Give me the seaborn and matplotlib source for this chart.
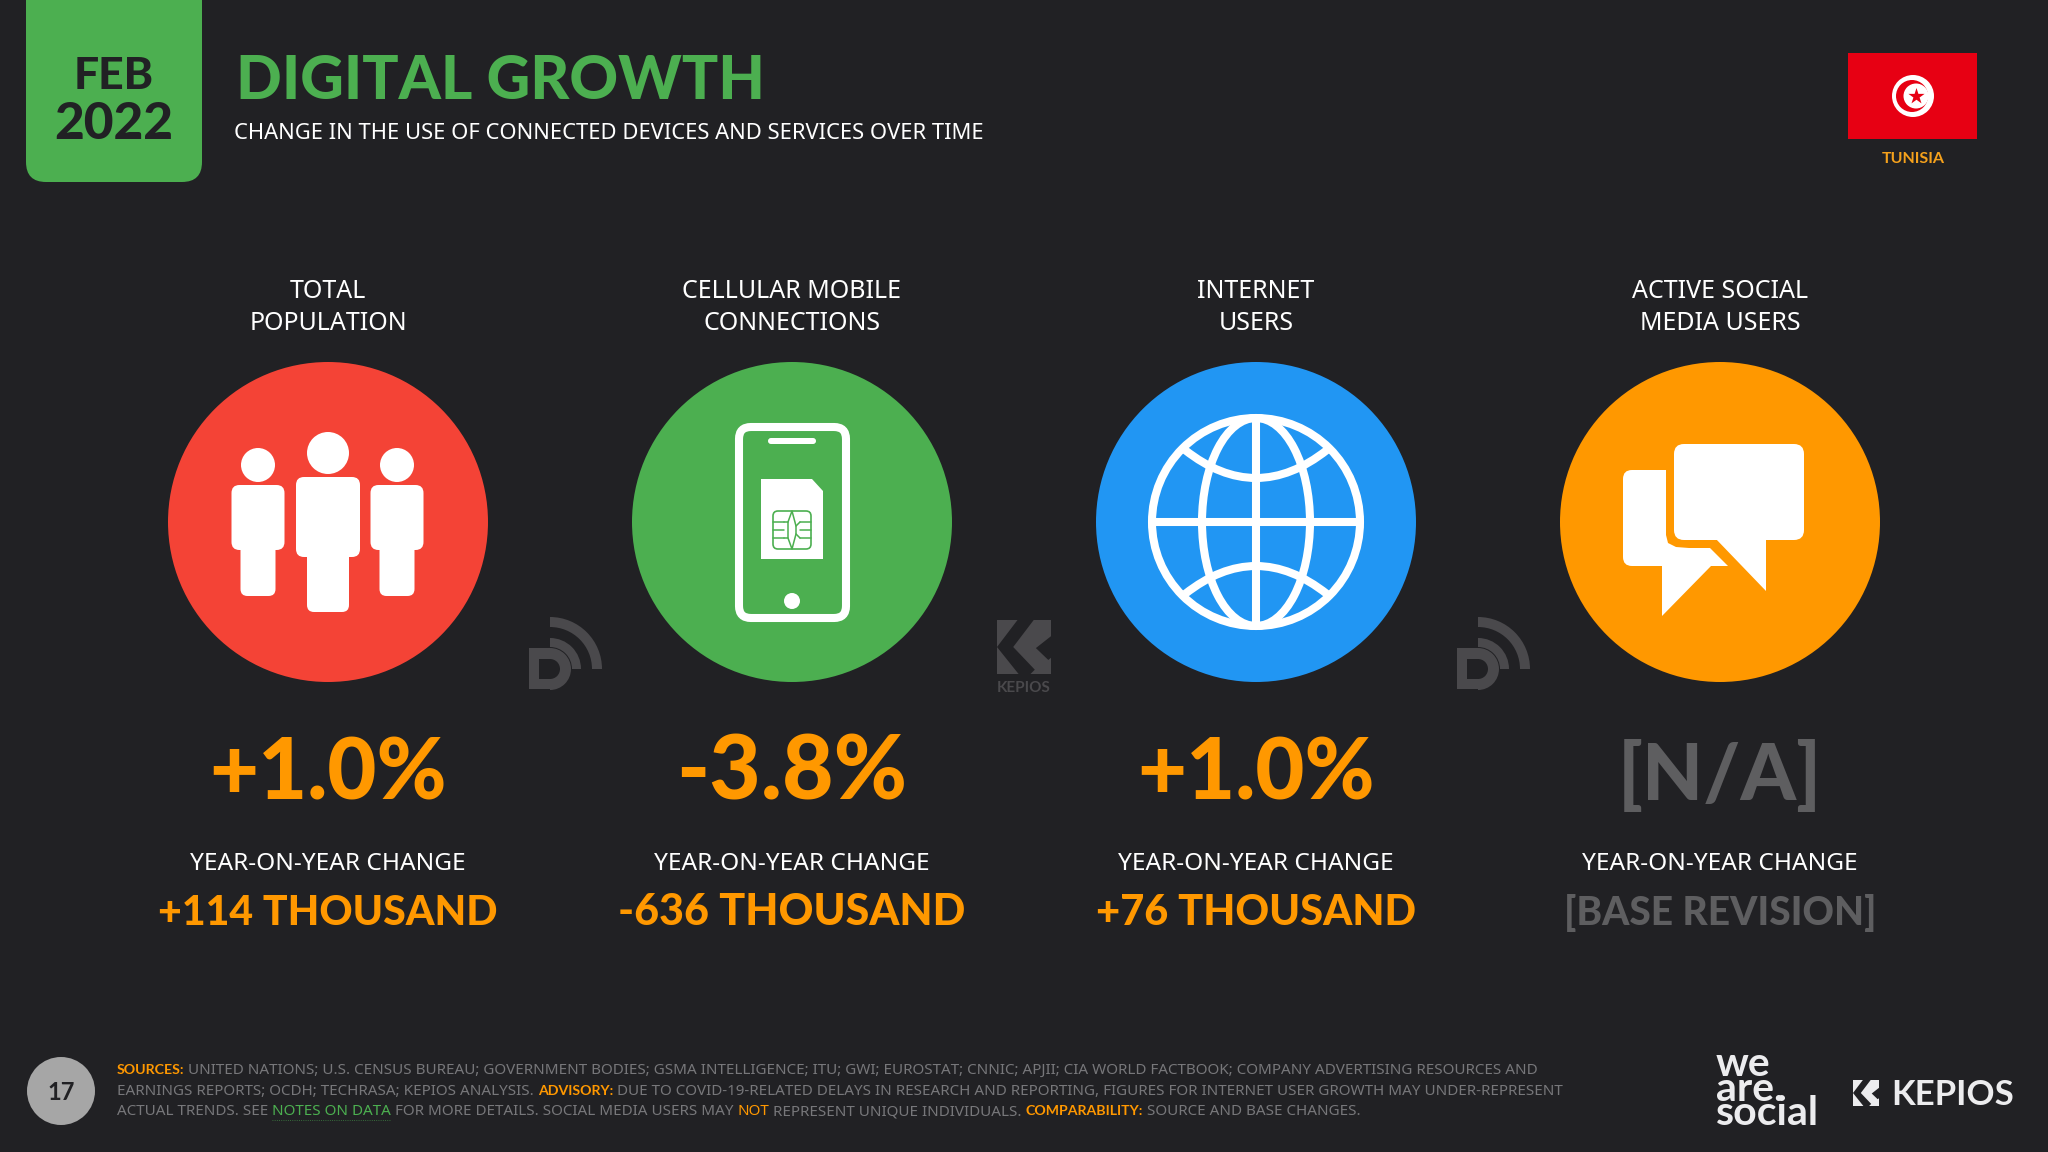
import matplotlib
matplotlib.use("Agg")
import matplotlib.pyplot as plt
import numpy as np
import pandas as pd
import seaborn as sns
from matplotlib.patches import Circle, Ellipse, FancyBboxPatch, PathPatch, Polygon, Rectangle, Wedge
from matplotlib.path import Path

# values
metrics = ["TOTAL\nPOPULATION", "CELLULAR MOBILE\nCONNECTIONS", "INTERNET\nUSERS", "ACTIVE SOCIAL\nMEDIA USERS"]
pct_change = ["+1.0%", "-3.8%", "+1.0%", "[N/A]"]
abs_change = ["+114 THOUSAND", "-636 THOUSAND", "+76 THOUSAND", "[BASE REVISION]"]
change_label = "YEAR-ON-YEAR CHANGE"

title = "DIGITAL GROWTH"
subtitle = "CHANGE IN THE USE OF CONNECTED DEVICES AND SERVICES OVER TIME"
month = "FEB"
year = "2022"
country = "TUNISIA"
page = "17"

footer_lines = [
    [("SOURCES:", "o"), ("UNITED NATIONS; U.S. CENSUS BUREAU; GOVERNMENT BODIES; GSMA INTELLIGENCE; ITU; GWI; EUROSTAT; CNNIC; APJII; CIA WORLD FACTBOOK; COMPANY ADVERTISING RESOURCES AND", "g")],
    [("EARNINGS REPORTS; OCDH; TECHRASA; KEPIOS ANALYSIS.", "g"), ("ADVISORY:", "o"), ("DUE TO COVID-19-RELATED DELAYS IN RESEARCH AND REPORTING, FIGURES FOR INTERNET USER GROWTH MAY UNDER-REPRESENT", "g")],
    [("ACTUAL TRENDS. SEE", "g"), ("NOTES ON DATA", "n"), ("FOR MORE DETAILS. SOCIAL MEDIA USERS MAY", "g"), ("NOT", "t"), ("REPRESENT UNIQUE INDIVIDUALS.", "g"), ("COMPARABILITY:", "o"), ("SOURCE AND BASE CHANGES.", "g")],
]

BG = "#212124"
GREEN = "#4CAF50"
ORANGE = "#FF9800"
GREY = "#5E5E60"
WHITE = "#FFFFFF"
LOGO = "#ECECEE"
WATERMARK = "#4A494C"
circle_colors = ["#F44336", GREEN, "#2196F3", ORANGE]
pct_colors = [ORANGE, ORANGE, ORANGE, GREY]

col_x = [328, 792, 1256, 1720]
pct_sizes = [61, 64, 61, 57]
abs_sizes = [29.5, 31, 30, 28]
CY = 522

sns.set_theme(style="white")
plt.rcParams["font.family"] = ["Lato", "DejaVu Sans"]

thin = dict(family=["Noto Sans", "DejaVu Sans"], stretch="condensed", fontweight="light")
heavy = dict(family=["Lato", "DejaVu Sans"], fontweight=900)

fig = plt.figure(figsize=(20.48, 11.52), dpi=100, facecolor=BG)
ax = fig.add_axes([0, 0, 1, 1])
ax.set_facecolor(BG)

circles = pd.DataFrame({"x": col_x, "y": [CY] * 4, "metric": metrics})
sns.scatterplot(data=circles, x="x", y="y", hue="metric", palette=circle_colors,
                s=(320 * 0.72) ** 2, linewidth=0, legend=False, ax=ax, zorder=2)
ax.set_xlim(0, 2048)
ax.set_ylim(1152, 0)
ax.axis("off")


def rounded(x0, y0, x1, y1, r, color, z=3, **kw):
    p = FancyBboxPatch((x0, y0), x1 - x0, y1 - y0, boxstyle=f"round,pad=0,rounding_size={r}",
                       facecolor=color, edgecolor="none", zorder=z, **kw)
    ax.add_patch(p)
    return p


def person(cx, head_y, head_r, body_w, body_top, body_bot, leg_w, leg_bot):
    ax.add_patch(Circle((cx, head_y), head_r, color=WHITE, lw=0, zorder=3))
    rounded(cx - body_w / 2, body_top, cx + body_w / 2, body_bot, 8, WHITE)
    rounded(cx - leg_w / 2, body_bot - 10, cx + leg_w / 2, leg_bot, 7, WHITE)


def curve(p0, c, p1, color=WHITE, lw=5.8):
    path = Path([p0, c, p1], [Path.MOVETO, Path.CURVE3, Path.CURVE3])
    ax.add_patch(PathPatch(path, fill=False, edgecolor=color, lw=lw, zorder=4, capstyle="butt"))


def d_logo(x, y):
    # x, y = centre of the arcs
    ax.add_patch(Wedge((x, y), 52, -90, 0, width=10, color=WATERMARK, lw=0))
    ax.add_patch(Wedge((x, y), 31, -90, 0, width=9, color=WATERMARK, lw=0))
    ax.add_patch(Wedge((x, y), 21, -90, 90, color=WATERMARK, lw=0))
    ax.add_patch(Rectangle((x - 21, y - 21), 21, 41, color=WATERMARK, lw=0))
    ax.add_patch(Rectangle((x - 11, y - 10), 11, 20, color=BG, lw=0))
    ax.add_patch(Wedge((x, y), 10, -90, 90, color=BG, lw=0))


def k_mark(x0, y0, size, color):
    ax.add_patch(Rectangle((x0, y0), size, size, color=color, lw=0))
    band = [(.38, 0), (.68, 0), (.30, .50), (.70, .92), (.62, 1), (.40, 1), (0, .50)]
    diamond = [(1, .30), (.72, .52), (.95, .74), (1, .70)]
    for pts in (band, diamond):
        ax.add_patch(Polygon([(x0 + a * size, y0 + b * size) for a, b in pts], color=BG, lw=0))


# people icon
person(328, 453, 21, 64, 477, 557, 42, 612)
person(258, 465, 17, 53, 485, 550, 35, 596)
person(397, 465, 17, 53, 485, 550, 35, 596)

# phone and sim icon
ph = FancyBboxPatch((739, 427), 107, 191, boxstyle="round,pad=0,rounding_size=12",
                    facecolor="none", edgecolor=WHITE, lw=5.8, zorder=3)
ax.add_patch(ph)
rounded(768, 438, 816, 444, 3, WHITE)
ax.add_patch(Circle((792, 601), 8, color=WHITE, lw=0, zorder=3))
ax.add_patch(Polygon([(761, 479), (812, 479), (823, 491), (823, 559), (761, 559)], color=WHITE, lw=0, zorder=3))
chip = FancyBboxPatch((773, 511), 38, 38, boxstyle="round,pad=0,rounding_size=5",
                      facecolor=WHITE, edgecolor=GREEN, lw=1.2, zorder=4)
ax.add_patch(chip)
for yy in (522, 530, 538):
    ax.plot([773, 784], [yy, yy], color=GREEN, lw=1.1, zorder=5)
    ax.plot([800, 811], [yy, yy], color=GREEN, lw=1.1, zorder=5)
ax.plot([784, 788, 788, 784], [522, 522, 538, 538], color=GREEN, lw=1.1, zorder=5)
ax.plot([800, 796, 796, 800], [522, 526, 534, 538], color=GREEN, lw=1.1, zorder=5)
ax.plot([788, 792, 796], [522, 511, 526], color=GREEN, lw=1.1, zorder=5)
ax.plot([788, 792, 796], [538, 549, 534], color=GREEN, lw=1.1, zorder=5)

# globe icon
gx = 1256
ax.add_patch(Circle((gx, CY), 104, fill=False, edgecolor=WHITE, lw=5.8, zorder=4))
ax.add_patch(Ellipse((gx, CY), 108, 208, fill=False, edgecolor=WHITE, lw=5.8, zorder=4))
ax.plot([gx, gx], [CY - 104, CY + 104], color=WHITE, lw=5.8, zorder=4, solid_capstyle="butt")
ax.plot([gx - 104, gx + 104], [CY, CY], color=WHITE, lw=5.8, zorder=4, solid_capstyle="butt")
curve((gx - 71, 450), (gx, 506), (gx + 71, 450))
curve((gx - 71, 594), (gx, 538), (gx + 71, 594))

# chat bubbles icon
rounded(1674, 444, 1804, 540, 10, WHITE)
ax.add_patch(Polygon([(1715, 538), (1766, 538), (1766, 591)], color=WHITE, lw=0, zorder=3))
rounded(1623, 470, 1650, 566, 9, WHITE)
ax.add_patch(Polygon([(1632, 470), (1666, 470), (1666, 535), (1668, 543), (1676, 547), (1689, 548),
                      (1710, 548), (1728, 566), (1711, 566), (1662, 616), (1662, 566), (1632, 566)],
                     color=WHITE, lw=0, zorder=3))

# watermarks
d_logo(550, 669)
d_logo(1478, 669)
k_mark(997, 620, 54, WATERMARK)
ax.text(1024, 692, "KEPIOS", color=WATERMARK, fontsize=11, fontweight="bold", ha="center", va="baseline")

# column texts
for i, x in enumerate(col_x):
    top, bottom = metrics[i].split("\n")
    pc = pct_colors[i]
    ax.text(x, 298, top, color=WHITE, fontsize=18, ha="center", va="baseline", **thin)
    ax.text(x, 330, bottom, color=WHITE, fontsize=18, ha="center", va="baseline", **thin)
    ax.text(x, 800, pct_change[i], color=pc, fontsize=pct_sizes[i], ha="center", va="baseline", **heavy)
    ax.text(x, 870, change_label, color=WHITE, fontsize=17.6, ha="center", va="baseline", **thin)
    ax.text(x, 925, abs_change[i], color=pc, fontsize=abs_sizes[i], ha="center", va="baseline", **heavy)

# header
rounded(26, -40, 202, 182, 20, GREEN)
ax.text(114, 89, month, color=BG, fontsize=32, ha="center", va="baseline", zorder=5, **heavy)
ax.text(114, 139, year, color=BG, fontsize=37, ha="center", va="baseline", zorder=5, **heavy)
ax.text(236, 99, title, color=GREEN, fontsize=43.4, ha="left", va="baseline", **heavy)
ax.text(234, 139, subtitle, color=WHITE, fontsize=15.8, ha="left", va="baseline", **thin)

# flag
ax.add_patch(Rectangle((1848, 53), 129, 86, color="#E70013", lw=0))
ax.add_patch(Circle((1913, 96), 21, color=WHITE, lw=0))
ax.add_patch(Circle((1912, 96), 16, color="#E70013", lw=0))
ax.add_patch(Circle((1916, 96), 12.5, color=WHITE, lw=0))
ax.scatter([1916], [96], marker="*", s=150, color="#E70013", linewidths=0, zorder=4)
ax.text(1913, 163, country, color="#F5A11C", fontsize=11.5, fontweight="bold", ha="center", va="baseline")

# footer
ax.add_patch(Circle((61, 1091), 34, color="#A6A6A6", lw=0))
ax.text(61, 1100, page, color=BG, fontsize=17, fontweight="bold", ha="center", va="baseline")

span_colors = {"g": "#77777A", "o": ORANGE, "n": GREEN, "t": ORANGE}
fig.canvas.draw()
renderer = fig.canvas.get_renderer()
for baseline, line in zip([1074, 1095, 1115], footer_lines):
    x = 117
    for txt, key in line:
        if key == "o":
            t = ax.text(x, baseline, txt, color=span_colors[key], fontsize=10.2, fontweight="bold",
                        ha="left", va="baseline")
        else:
            t = ax.text(x, baseline, txt, color=span_colors[key], fontsize=10.95, ha="left", va="baseline", **thin)
        box = t.get_window_extent(renderer)
        if key == "n":
            ax.plot([x, box.x1], [1120, 1120], color=GREEN, lw=0.6, ls=":", alpha=0.7)
        x = box.x1 + 4

# logos bottom right
ax.text(1716, 1125, "we\nare.\nsocial", color=LOGO, fontsize=29.5, fontweight="bold",
        ha="left", va="baseline", linespacing=0.58)
k_mark(1853, 1080, 26, LOGO)
ax.text(1891, 1105, "KEPIOS", color=LOGO, fontsize=25, fontweight="bold", ha="left", va="baseline")

fig.savefig("out.png", dpi=100, facecolor=BG)
